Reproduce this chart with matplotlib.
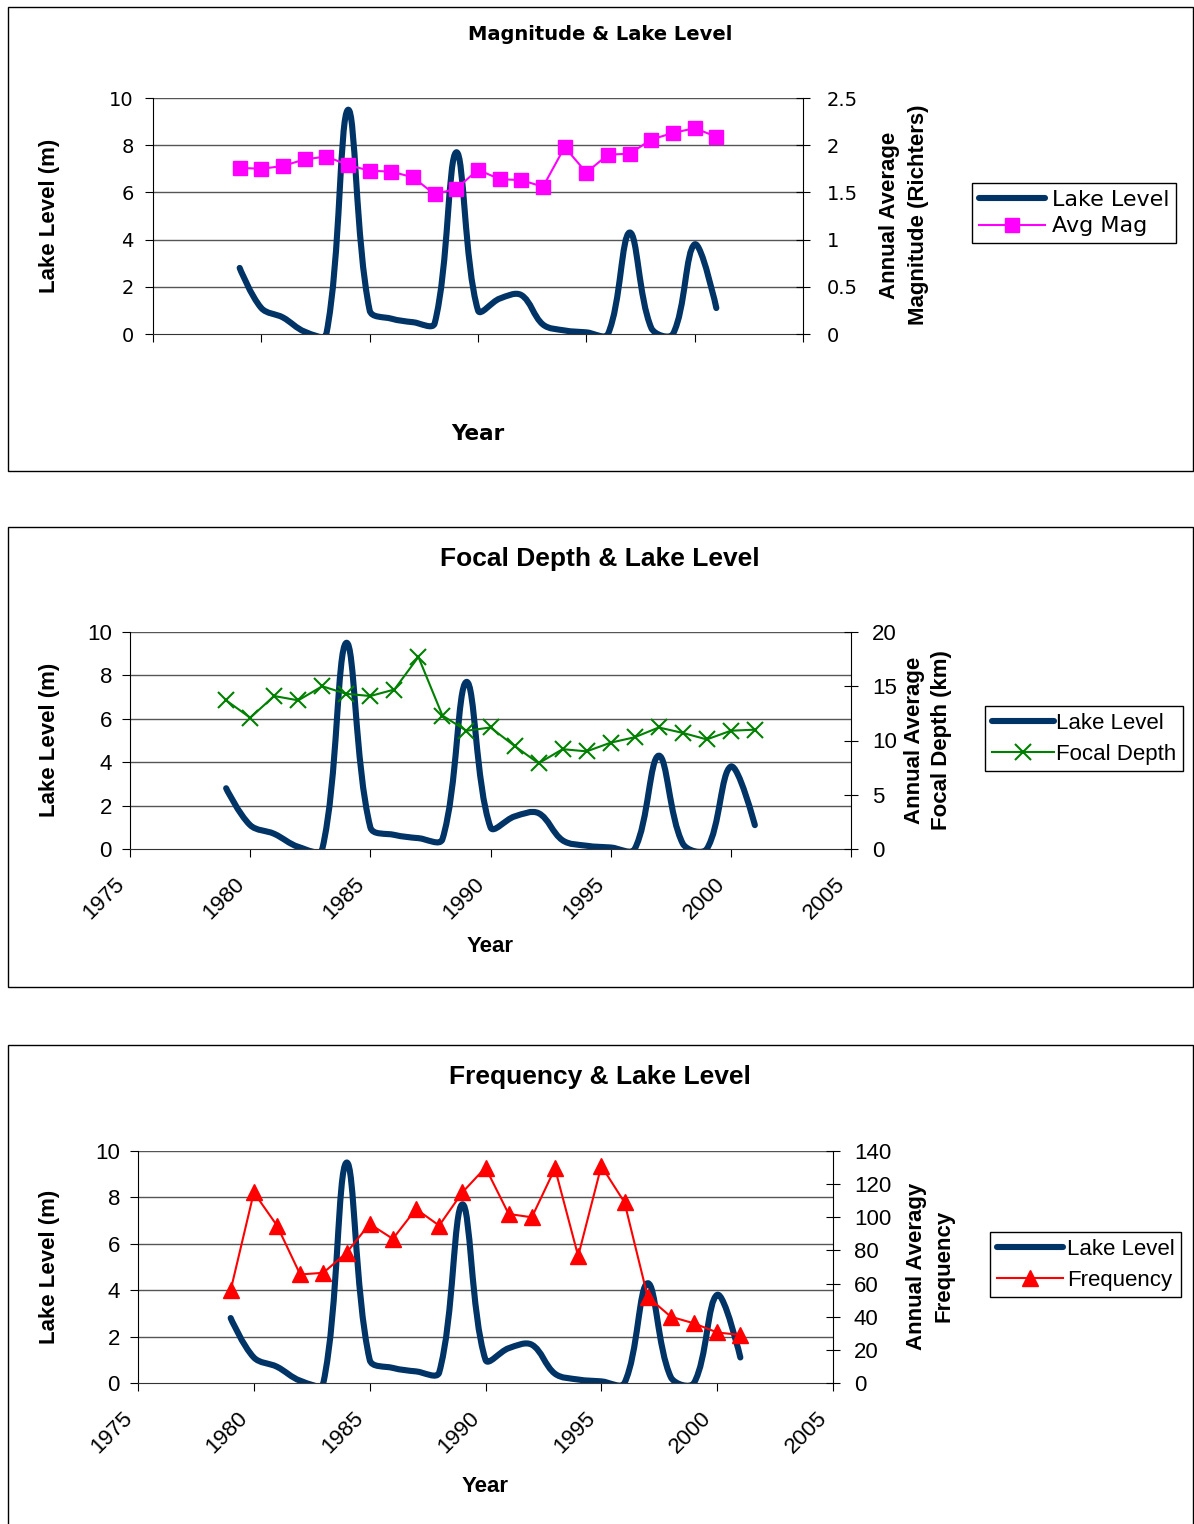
import numpy as np
import matplotlib
matplotlib.use("Agg")
import matplotlib.pyplot as plt
import matplotlib.transforms as mtransforms
from matplotlib.path import Path
from matplotlib.patches import PathPatch, Rectangle
from matplotlib.lines import Line2D
from matplotlib.ticker import FuncFormatter

plt.rcParams['font.family'] = ['Liberation Sans', 'DejaVu Sans']

# data (one value per year)
years = list(range(1979, 2002))
lake_level = [2.8, 1.1, 0.7, 0.1, 0.0, 9.5, 1.0, 0.65, 0.5, 0.45, 7.7, 1.0,
              1.5, 1.65, 0.4, 0.15, 0.07, 0.0, 4.3, 0.25, 0.0, 3.8, 1.1]
avg_mag = [1.76, 1.75, 1.78, 1.85, 1.88, 1.79, 1.73, 1.72, 1.66, 1.48, 1.54, 1.74,
           1.64, 1.63, 1.56, 1.98, 1.71, 1.90, 1.91, 2.06, 2.13, 2.18, 2.09]
focal_depth = [13.7, 12.1, 14.1, 13.7, 15.0, 14.3, 14.1, 14.7, 17.7, 12.3, 10.9, 11.2,
               9.5, 7.9, 9.2, 9.0, 9.8, 10.3, 11.2, 10.7, 10.1, 10.9, 11.0]
frequency = [56, 115, 95, 65.5, 66.5, 78.6, 96, 87, 105, 95, 115, 130,
             102, 100, 129.5, 76.6, 131, 109, 52, 40, 36, 30.5, 29]

x_ticks = [1975, 1980, 1985, 1990, 1995, 2000, 2005]
lake_ticks = [0, 2, 4, 6, 8, 10]

NAVY = '#003366'
W, H = 1194, 1524


def fx(px):
    return px / W


def fy(py):
    return 1 - py / H


def smooth_path(x, y, sx, sy, t=0.36):
    # excel style smoothed line, bezier arms scaled by neighbouring segment
    # lengths (worked out in pixel space, so sx/sy are px per data unit)
    p = np.column_stack([np.asarray(x, float) * sx, np.asarray(y, float) * sy])
    n = len(p)
    cin = p.copy()
    cout = p.copy()
    for i in range(1, n - 1):
        d01 = np.hypot(*(p[i] - p[i - 1]))
        d12 = np.hypot(*(p[i + 1] - p[i]))
        tan = p[i + 1] - p[i - 1]
        cin[i] = p[i] - t * d01 / (d01 + d12) * tan
        cout[i] = p[i] + t * d12 / (d01 + d12) * tan
    verts = [p[0]]
    codes = [Path.MOVETO]
    for i in range(n - 1):
        verts += [cout[i], cin[i + 1], p[i + 1]]
        codes += [Path.CURVE4] * 3
    verts = np.array(verts) / [sx, sy]
    return Path(verts, codes)


def panel(box, rect, rmax, rstep, family, fs, ticklabels, pad_l, pad_r):
    fig.add_artist(Rectangle((fx(box[0]), fy(box[3])), fx(box[2] - box[0]), (box[3] - box[1]) / H,
                             transform=fig.transFigure, fill=False, ec='black', lw=1))
    ax = fig.add_axes([fx(rect[0]), fy(rect[3]), fx(rect[2] - rect[0]), (rect[3] - rect[1]) / H])
    ax.set_xlim(1975, 2005)
    ax.set_ylim(0, 10)
    ax.set_yticks(lake_ticks)
    ax.set_xticks(x_ticks)
    for y in lake_ticks[1:]:
        ax.axhline(y, color='#555555', lw=1, zorder=0)
    ax.spines['top'].set_visible(False)
    ax.spines['right'].set_visible(False)
    ax.spines['left'].set_color('black')
    ax.spines['bottom'].set_color('#333333')
    ax.tick_params(axis='y', direction='out', length=6, pad=pad_l, labelsize=fs)
    ax.tick_params(axis='x', direction='out', length=6, labelsize=fs)
    for t in ax.get_yticklabels():
        t.set_family(family)
    if ticklabels:
        ax.set_xticklabels([str(v) for v in x_ticks], rotation=45, ha='right',
                           va='center', rotation_mode='anchor', family=family)
        ax.tick_params(axis='x', pad=17)
        shift = mtransforms.ScaledTranslation(-0.09, 0, fig.dpi_scale_trans)
        for lab in ax.get_xticklabels():
            lab.set_transform(lab.get_transform() + shift)
    else:
        ax.set_xticklabels([])
    sx = (rect[2] - rect[0]) / 30
    sy = (rect[3] - rect[1]) / 10
    ax.add_patch(PathPatch(smooth_path(years, lake_level, sx, sy), fill=False, ec=NAVY,
                           lw=4.4, capstyle='round', joinstyle='round', zorder=3))
    ax2 = ax.twinx()
    ax2.set_ylim(0, rmax)
    ax2.set_yticks(np.arange(0, rmax + rstep / 2, rstep))
    ax2.yaxis.set_major_formatter(FuncFormatter(lambda v, p: '%g' % v))
    for s in ['top', 'left', 'bottom']:
        ax2.spines[s].set_visible(False)
    ax2.spines['right'].set_color('black')
    ax2.tick_params(axis='y', direction='inout', length=10, pad=pad_r, labelsize=fs)
    for t in ax2.get_yticklabels():
        t.set_family(family)
    return ax, ax2


fig = plt.figure(figsize=(W / 100, H / 100), dpi=100)

lake_handle = Line2D([], [], color=NAVY, lw=4.4, solid_capstyle='round')

# ---- panel 1: magnitude
ax, ax2 = panel((8, 7, 1193, 471), (153, 98, 803, 334), 2.5, 0.5, 'DejaVu Sans', 14, False, 8, 12)
ax2.plot(years, avg_mag, color='#FF00FF', lw=1.5, marker='s', ms=9.5, zorder=4)
fig.text(fx(600), fy(35), 'Magnitude & Lake Level', ha='center', va='center',
         fontsize=14, fontweight='bold', family='DejaVu Sans')
fig.text(fx(478), fy(434), 'Year', ha='center', va='center', fontsize=15.5,
         fontweight='bold', family='DejaVu Sans')
fig.text(fx(50), fy(216), 'Lake Level (m)', rotation=90, ha='center', va='center',
         fontsize=16, fontweight='bold')
fig.text(fx(904), fy(215), 'Annual Average\nMagnitude (Richters)', rotation=90,
         ha='center', va='center', fontsize=16, fontweight='bold', linespacing=1.5)
mag_handle = Line2D([], [], color='#FF00FF', lw=1.5, marker='s', ms=9.5)
fig.legend([lake_handle, mag_handle], ['Lake Level', 'Avg Mag'], loc='upper left',
           bbox_to_anchor=(fx(972), fy(183)), borderaxespad=0, fancybox=False,
           edgecolor='black', framealpha=1, handlelength=3.0, handletextpad=0.3,
           borderpad=0.3, labelspacing=0.3,
           prop={'family': 'DejaVu Sans', 'size': 16})

# ---- panel 2: focal depth
ax, ax2 = panel((8, 527, 1193, 987), (130, 632, 851, 849), 20, 5, 'Liberation Sans', 16, True, 7, 10)
ax2.plot(years, focal_depth, color='#008000', lw=1.5, marker='x', ms=11, mew=1.5, zorder=4)
fig.text(fx(600), fy(559), 'Focal Depth & Lake Level', ha='center', va='center',
         fontsize=19, fontweight='bold')
fig.text(fx(490), fy(946), 'Year', ha='center', va='center', fontsize=16, fontweight='bold')
fig.text(fx(50), fy(740), 'Lake Level (m)', rotation=90, ha='center', va='center',
         fontsize=16, fontweight='bold')
fig.text(fx(928), fy(740), 'Annual Average\nFocal Depth (km)', rotation=90,
         ha='center', va='center', fontsize=16, fontweight='bold', linespacing=1.4)
depth_handle = Line2D([], [], color='#008000', lw=1.5, marker='x', ms=11, mew=1.5)
fig.legend([lake_handle, depth_handle], ['Lake Level', 'Focal Depth'], loc='upper left',
           bbox_to_anchor=(fx(985), fy(706)), borderaxespad=0, fancybox=False,
           edgecolor='black', framealpha=1, handlelength=2.8, handletextpad=0.1,
           borderpad=0.3, labelspacing=0.45, prop={'size': 16})

# ---- panel 3: frequency
ax, ax2 = panel((8, 1045, 1193, 1530), (138, 1151, 833, 1383), 140, 20, 'Liberation Sans', 16, True, 7, 10)
ax2.plot(years, frequency, color='#FF0000', lw=1.5, marker='^', ms=11, zorder=4)
fig.text(fx(600), fy(1077), 'Frequency & Lake Level', ha='center', va='center',
         fontsize=19, fontweight='bold')
fig.text(fx(485), fy(1486), 'Year', ha='center', va='center', fontsize=16, fontweight='bold')
fig.text(fx(50), fy(1267), 'Lake Level (m)', rotation=90, ha='center', va='center',
         fontsize=16, fontweight='bold')
fig.text(fx(930), fy(1266), 'Annual Averagy\nFrequency', rotation=90,
         ha='center', va='center', fontsize=16, fontweight='bold', linespacing=1.4)
freq_handle = Line2D([], [], color='#FF0000', lw=1.5, marker='^', ms=11)
fig.legend([lake_handle, freq_handle], ['Lake Level', 'Frequency'], loc='upper left',
           bbox_to_anchor=(fx(990), fy(1232)), borderaxespad=0, fancybox=False,
           edgecolor='black', framealpha=1, handlelength=3.0, handletextpad=0.15,
           borderpad=0.3, labelspacing=0.45, prop={'size': 16})

fig.savefig('out.png', dpi=100)
